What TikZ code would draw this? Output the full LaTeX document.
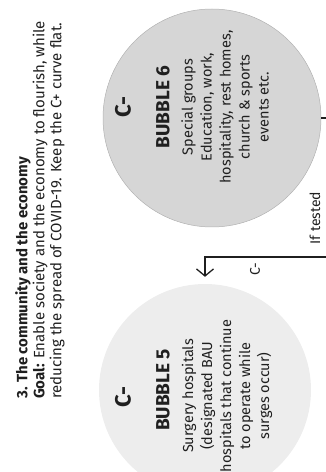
\documentclass[tikz,border=0pt]{standalone}
\usepackage{fontspec}
\setmainfont{Fira Sans}
\usetikzlibrary{arrows.meta, positioning}

\definecolor{inkgray}{gray}{0.12}
\definecolor{sixfill}{gray}{0.84}
\definecolor{fivefill}{gray}{0.93}

\begin{document}
\begin{tikzpicture}[x=1pt, y=1pt,
    rotate=90, transform shape,
    >={Straight Barb[length=7pt,width=17pt]},
    every node/.style={text=inkgray, inner sep=0pt},
    bubble/.style={circle, minimum size=#1},
    grade/.style={font=\fontsize{22}{24}\selectfont\bfseries},
    bubbletitle/.style={font=\fontsize{19}{22}\selectfont\bfseries},
    bubblebody/.style={font=\fontsize{14.5}{19}\selectfont, align=center},
    smalltext/.style={font=\fontsize{14}{16}\selectfont},
    link/.style={draw=inkgray, line width=1.3pt}]

    \clip (0,-326) rectangle (472,0);

    % heading
    \node[anchor=north west, align=left,
          font=\fontsize{15}{17}\selectfont] (title) at (73,-15)
      {\textbf{3. The community and the economy}\\
       \textbf{Goal:} Enable society and the economy to flourish, while\\
       reducing the spread of COVID-19. Keep the C+ curve flat.};

    \node[bubble=218pt, fill=sixfill, draw=black!30, line width=0.5pt] (b6) at (354,-212) {};
    \node[bubble=212pt, fill=fivefill] (b5) at (82,-205) {};

    \node[grade]       (b6_g) at (365,-123) {C-};
    \node[bubbletitle] (b6_t) at (365,-163) {BUBBLE 6};
    \node[bubblebody]  (b6_b) at (365,-225)
      {Special groups\\ Education, work,\\ hospitality, rest homes,\\ church \& sports\\ events etc.};

    \node[grade]       (b5_g) at (75,-123) {C-};
    \node[bubbletitle] (b5_t) at (82,-163) {BUBBLE 5};
    \node[bubblebody]  (b5_b) at (76,-227)
      {Surgery hospitals\\ (designated BAU\\ hospitals that continue\\ to operate while\\ surges occur)};

    \coordinate (feed) at (215,-340);
    \node[smalltext] (tested) at (254,-315) {If tested};
    \node[smalltext] (arrow_g) at (203,-255) {C-};

    \draw[link, ->, shorten >=7pt] (feed) |- (b5);
    \draw[link] (b6.south) -- ++(0,-20);
\end{tikzpicture}
\end{document}
